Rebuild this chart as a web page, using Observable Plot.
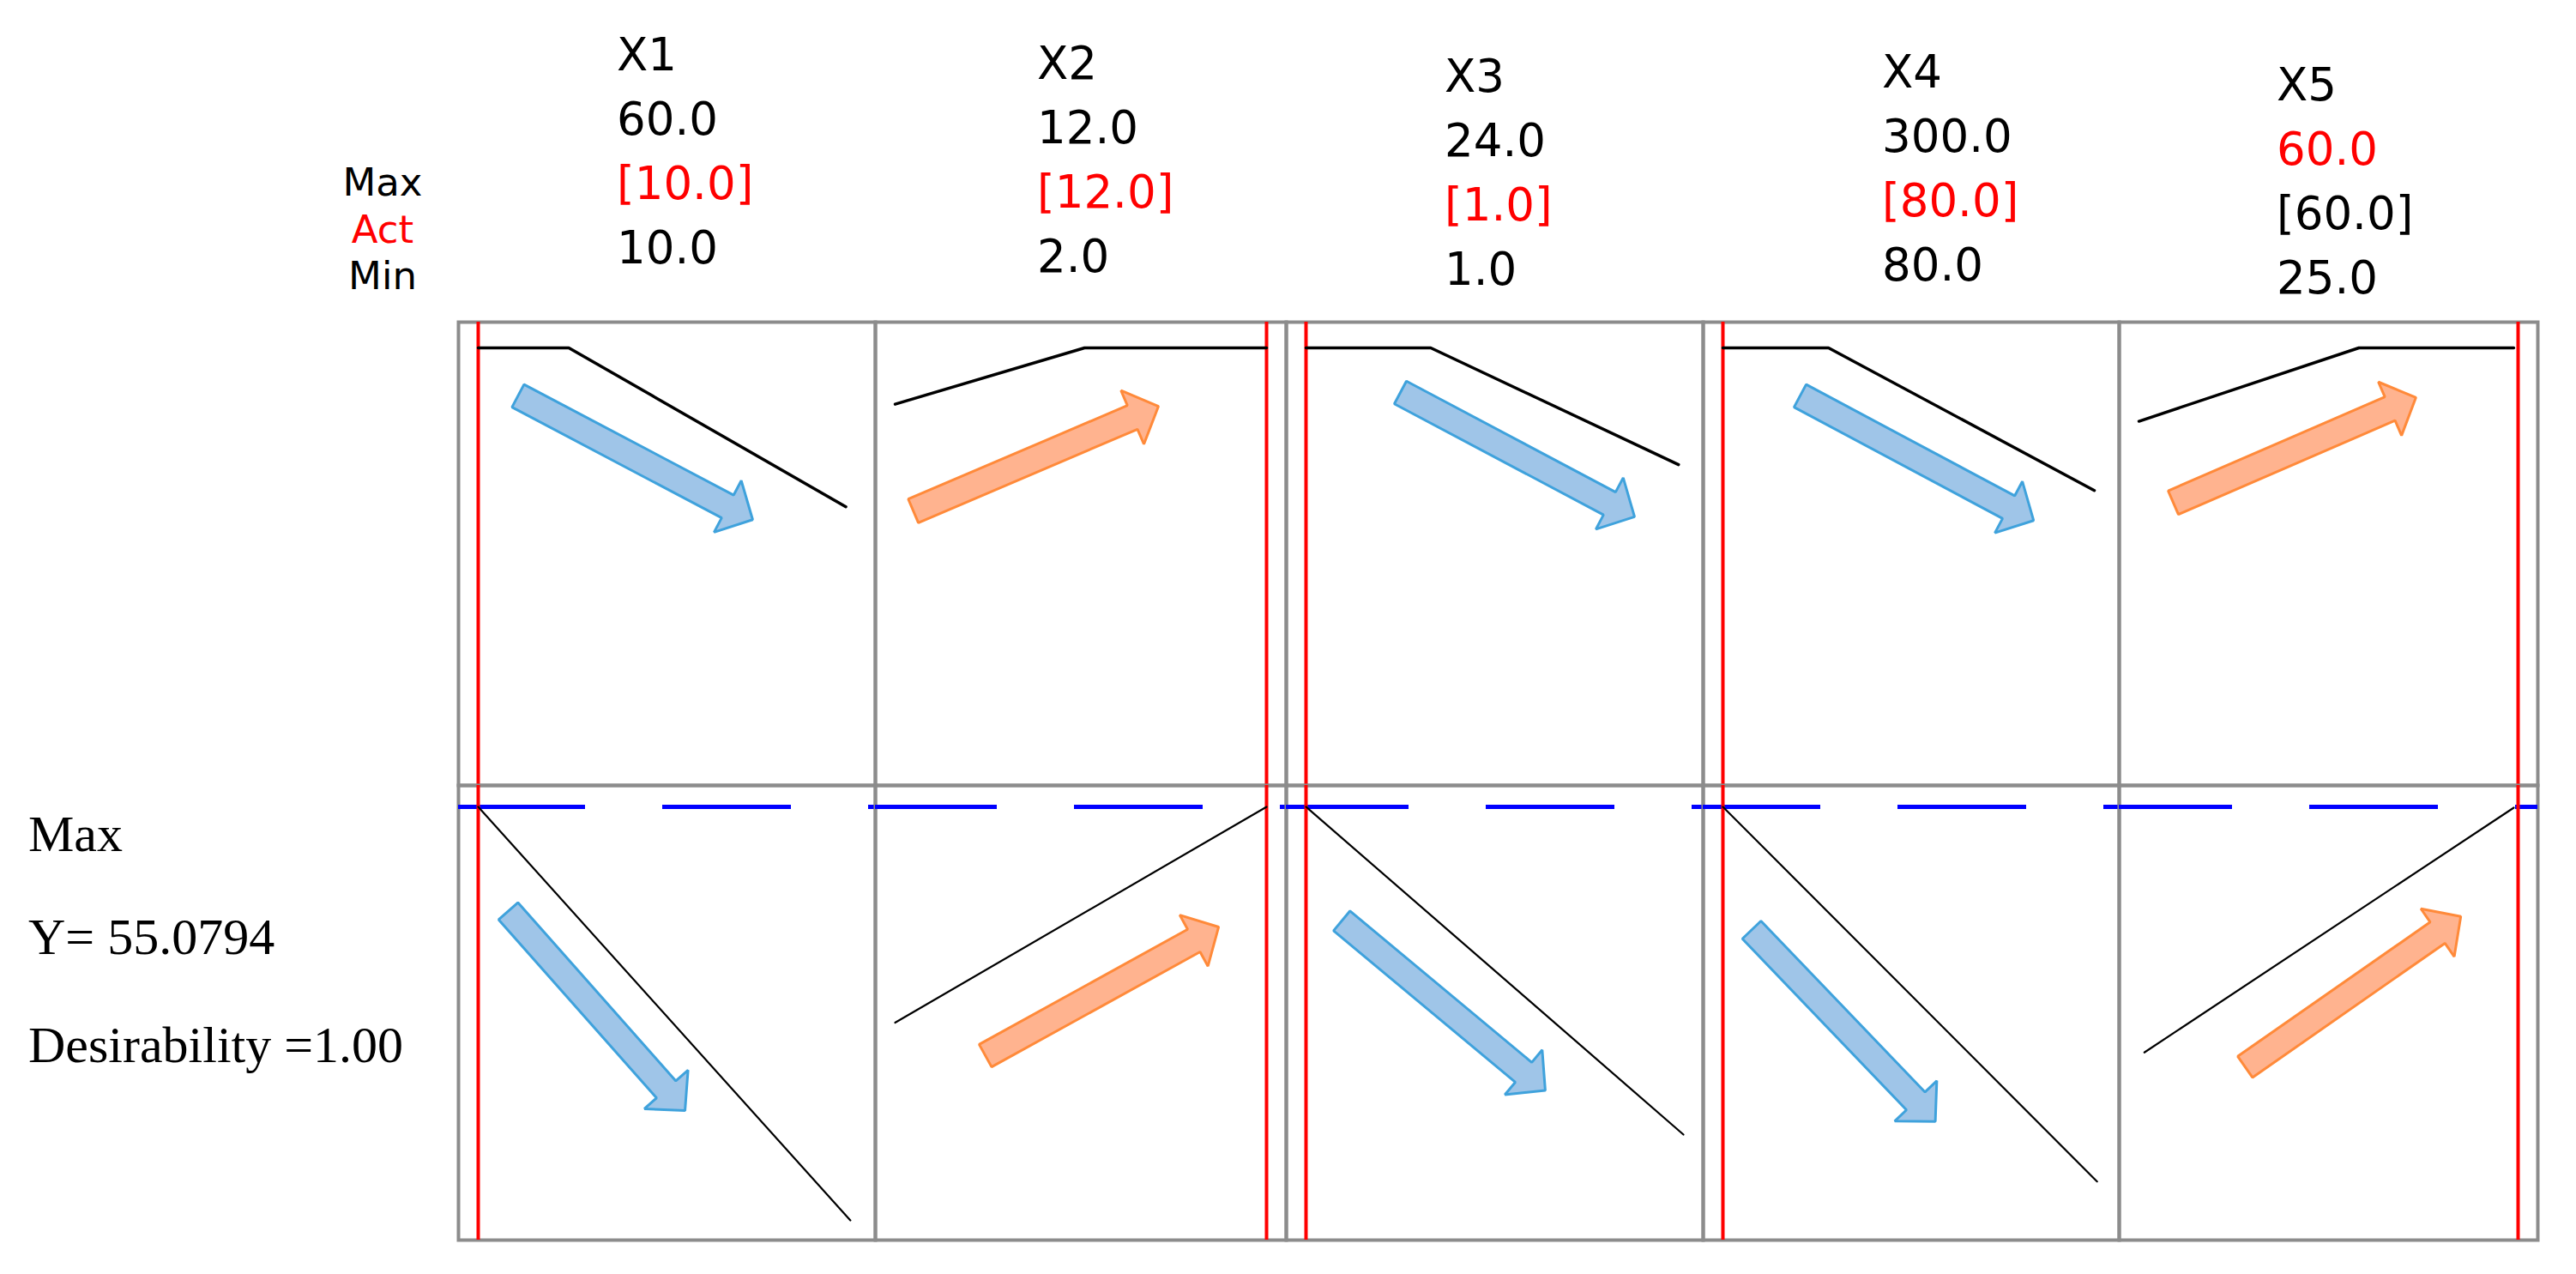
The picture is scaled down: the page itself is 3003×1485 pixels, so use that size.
<!DOCTYPE html>
<html>
<head>
<meta charset="utf-8">
<script src="https://cdn.jsdelivr.net/npm/d3@7"></script>
<script src="https://cdn.jsdelivr.net/npm/@observablehq/plot@0.6"></script>
<style>
  body { margin: 0; background: #ffffff; }
  #chart { position: relative; width: 3003px; height: 1485px; overflow: hidden; background: #ffffff; }
  #chart svg { position: absolute; }
</style>
</head>
<body>
<div id="chart"></div>
<script>
// ---------------- DATA ----------------
const factors   = ["X1", "X2", "X3", "X4", "X5"];
const factorMax = [60, 12, 24, 300, 60];
const factorAct = [10, 12, 1, 80, 60];
const factorMin = [10, 2, 1, 80, 25];
const redHeaderRow = ["act", "act", "act", "act", "max"];

const goalLabel = "Max";
const responseName = "Y";
const optimumY = 55.0794;
const desirability = 1.00;

// top row: desirability traces (x in factor units, d in 0..1)
const dX1 = [{x: 10, d: 1}, {x: 22, d: 1}, {x: 58.7, d: 0.619}];
const dX2 = [{x: 2, d: 0.865}, {x: 7.1, d: 1}, {x: 12, d: 1}];
const dX3 = [{x: 1, d: 1}, {x: 8.6, d: 1}, {x: 23.7, d: 0.72}];
const dX4 = [{x: 80, d: 1}, {x: 141.7, d: 1}, {x: 297, d: 0.658}];
const dX5 = [{x: 25, d: 0.824}, {x: 45.3, d: 1}, {x: 59.6, d: 1}];

// bottom row: response traces (x in factor units, y response)
const yX1 = [{x: 10, y: 55.08}, {x: 59.3, y: 17.97}];
const yX2 = [{x: 2, y: 35.71}, {x: 12, y: 55.08}];
const yX3 = [{x: 1, y: 55.08}, {x: 24, y: 25.67}];
const yX4 = [{x: 80, y: 55.08}, {x: 298.6, y: 21.46}];
const yX5 = [{x: 25.5, y: 33.04}, {x: 59.6, y: 55.0}];

const desirabilityTraces = [dX1, dX2, dX3, dX4, dX5];
const responseTraces = [yX1, yX2, yX3, yX4, yX5];

// annotation arrows (tail -> tip, in each panel's units)
const arrowsTop = [
  {x1: 15.27, y1: 0.885, x2: 46.36, y2: 0.588, dir: "down"},
  {x1: 2.49,  y1: 0.609, x2: 9.09,  y2: 0.860, dir: "up"},
  {x1: 6.75,  y1: 0.893, x2: 21.02, y2: 0.595, dir: "down"},
  {x1: 125.1, y1: 0.885, x2: 261.5, y2: 0.586, dir: "down"},
  {x1: 28.17, y1: 0.629, x2: 50.57, y2: 0.881, dir: "up"}
];
const arrowsBottom = [
  {x1: 13.98, y1: 45.72, x2: 37.39, y2: 27.82, dir: "down"},
  {x1: 4.43,  y1: 32.75, x2: 10.71, y2: 44.30, dir: "up"},
  {x1: 3.18,  y1: 44.85, x2: 15.58, y2: 29.63, dir: "down"},
  {x1: 96.8,  y1: 44.04, x2: 204.1, y2: 26.85, dir: "down"},
  {x1: 34.80, y1: 31.74, x2: 54.71, y2: 45.24, dir: "up"}
];

// ---------------- LAYOUT / STYLE ----------------
const colEdges = [534, 1020, 1499, 1985, 2470, 2958];
const rowsLayout = [{top: 375, height: 540}, {top: 915, height: 530}];
const INSET = 23;
const SHAFT = 15, HEAD = 34, HEAD_LEN = 33;
const GRAY = "#8c8c8c";
const arrowStyle = {
  down: {fill: "#9fc5e8", stroke: "#3fa2dc"},
  up:   {fill: "#ffb38f", stroke: "#ff8a3a"}
};

const chart = document.getElementById("chart");

function arrowPolygon(a, xs, ys) {
  const tx = xs.apply(a.x1), ty = ys.apply(a.y1);
  const px = xs.apply(a.x2), py = ys.apply(a.y2);
  const dx = px - tx, dy = py - ty, L = Math.hypot(dx, dy);
  const ux = dx / L, uy = dy / L, nx = -uy, ny = ux;
  const bx = px - ux * HEAD_LEN, by = py - uy * HEAD_LEN;
  const pts = [
    [tx + nx * SHAFT, ty + ny * SHAFT],
    [bx + nx * SHAFT, by + ny * SHAFT],
    [bx + nx * HEAD, by + ny * HEAD],
    [px, py],
    [bx - nx * HEAD, by - ny * HEAD],
    [bx - nx * SHAFT, by - ny * SHAFT],
    [tx - nx * SHAFT, ty - ny * SHAFT]
  ];
  return pts.map(([X, Y]) => ({x: xs.invert(X), y: ys.invert(Y)}));
}

for (let row = 0; row < 2; row++) {
  for (let i = 0; i < factors.length; i++) {
    const W = colEdges[i + 1] - colEdges[i];
    const H = rowsLayout[row].height;
    const xOpts = {domain: [factorMin[i], factorMax[i]], range: [INSET, W - INSET]};
    const yOpts = row === 0
      ? {domain: [0, 1], range: [H - 24, 30]}
      : {domain: [16.2, 57], range: [H, 0]};
    const xs = Plot.scale({x: xOpts});
    const ys = Plot.scale({y: yOpts});
    const arrow = (row === 0 ? arrowsTop : arrowsBottom)[i];
    const poly = arrowPolygon(arrow, xs, ys);
    const st = arrowStyle[arrow.dir];

    const marks = [Plot.frame({stroke: GRAY, strokeWidth: 4})];
    if (row === 1) {
      marks.push(Plot.ruleY([optimumY], {
        stroke: "#0000ff", strokeWidth: 5,
        strokeDasharray: "150,90",
        strokeDashoffset: (colEdges[i] - 532) % 240
      }));
    }
    marks.push(Plot.ruleX([factorAct[i]], {stroke: "#ff0000", strokeWidth: 4}));
    if (row === 0) {
      marks.push(Plot.line(desirabilityTraces[i], {x: "x", y: "d", stroke: "#000", strokeWidth: 3.5}));
    } else {
      marks.push(Plot.line(responseTraces[i], {x: "x", y: "y", stroke: "#000", strokeWidth: 2.2}));
    }
    marks.push(Plot.line(poly, {
      x: "x", y: "y", curve: "linear-closed",
      fill: st.fill, stroke: st.stroke, strokeWidth: 3, strokeLinejoin: "miter"
    }));

    const svg = Plot.plot({
      width: W, height: H,
      margin: 0,
      style: {background: "transparent", overflow: "visible"},
      x: {...xOpts, axis: null},
      y: {...yOpts, axis: null},
      marks
    });
    svg.style.left = colEdges[i] + "px";
    svg.style.top = rowsLayout[row].top + "px";
    chart.appendChild(svg);
  }
}

// ---------------- TEXT OVERLAY ----------------
const overlay = d3.create("svg")
  .attr("width", 3003).attr("height", 1485)
  .style("left", "0px").style("top", "0px")
  .style("pointer-events", "none");

const headerX = [719, 1209, 1684, 2194, 2654];
const headerY = [82, 92, 107, 102, 117];
const LINE = 75;
factors.forEach((f, i) => {
  const lines = [
    {t: f, c: "#000"},
    {t: factorMax[i].toFixed(1), c: redHeaderRow[i] === "max" ? "#ff0000" : "#000"},
    {t: "[" + factorAct[i].toFixed(1) + "]", c: redHeaderRow[i] === "act" ? "#ff0000" : "#000"},
    {t: factorMin[i].toFixed(1), c: "#000"}
  ];
  lines.forEach((l, k) => {
    overlay.append("text")
      .attr("x", headerX[i]).attr("y", headerY[i] + k * LINE)
      .attr("font-family", "DejaVu Sans").attr("font-size", 53)
      .attr("fill", l.c).text(l.t);
  });
});

[["Max", "#000", 228], ["Act", "#ff0000", 283], ["Min", "#000", 337]].forEach(([t, c, y]) => {
  overlay.append("text").attr("x", 446).attr("y", y)
    .attr("text-anchor", "middle")
    .attr("font-family", "DejaVu Sans").attr("font-size", 45)
    .attr("fill", c).text(t);
});

[[goalLabel, 992], [responseName + "= " + optimumY, 1112], ["Desirability =" + desirability.toFixed(2), 1238]]
  .forEach(([t, y]) => {
    overlay.append("text").attr("x", 33).attr("y", y)
      .attr("font-family", "Liberation Serif").attr("font-size", 60)
      .attr("fill", "#000").text(t);
  });

chart.appendChild(overlay.node());
</script>
</body>
</html>
